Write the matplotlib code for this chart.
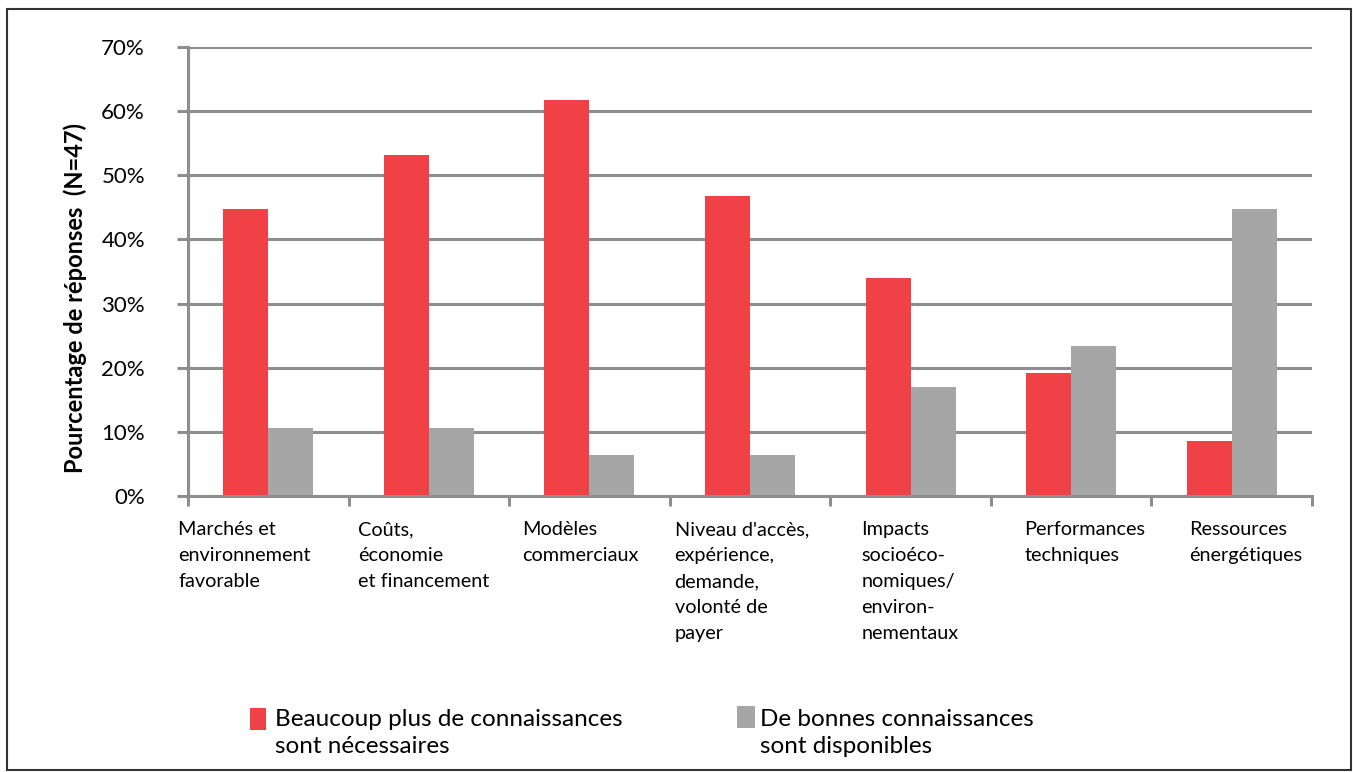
import matplotlib
matplotlib.use("Agg")
import matplotlib.pyplot as plt
from matplotlib.patches import Rectangle
import numpy as np

plt.rcParams['font.family'] = ['Lato', 'DejaVu Sans']

categories = [
    "Marchés et\nenvironnement\nfavorable",
    "Coûts,\néconomie\net financement",
    "Modèles\ncommerciaux",
    "Niveau d'accès,\nexpérience,\ndemande,\nvolonté de\npayer",
    "Impacts\nsocioéco-\nnomiques/\nenviron-\nnementaux",
    "Performances\ntechniques",
    "Ressources\nénergétiques",
]
need_more = [44.7, 53.2, 61.7, 46.8, 34.0, 19.1, 8.5]
good_avail = [10.6, 10.6, 6.4, 6.4, 17.0, 23.4, 44.7]
series_names = ["Beaucoup plus de connaissances\nsont nécessaires",
                "De bonnes connaissances\nsont disponibles"]
yticks = [0, 10, 20, 30, 40, 50, 60, 70]
ylabel = "Pourcentage de réponses  (N=47)"

# label left-edge offsets from category center (style)
label_offsets = [-0.562, -0.442, -0.422, -0.47, -0.306, -0.292, -0.265]

RED = "#EF4146"
GRAY = "#A6A6A6"
GRID = "#8E8E8E"
W, H = 1353, 772

fig = plt.figure(figsize=(W/100, H/100), dpi=100)
ax = fig.add_axes([188/W, 1-496/H, (1312-188)/W, (496-47)/H])

x = np.arange(len(categories))
w = 0.28
b1 = ax.bar(x - w/2, need_more, width=w, color=RED, zorder=3, label=series_names[0])
b2 = ax.bar(x + w/2, good_avail, width=w, color=GRAY, zorder=3, label=series_names[1])

ax.set_xlim(-0.5, len(categories) - 0.5)
ax.set_ylim(0, 70)
ax.set_yticks(yticks)
ax.set_yticklabels([f"{v}%" for v in yticks], fontsize=16)
ax.yaxis.grid(True, color=GRID, lw=2.2, zorder=0)
ax.set_axisbelow(True)

ax.set_xticks(np.arange(len(categories) + 1) - 0.5)
ax.set_xticklabels([])
ax.tick_params(axis='x', length=7, width=2.2, color=GRID, direction='out')
ax.tick_params(axis='y', length=8, width=2.2, color=GRID, direction='out', pad=23)

for side in ['top', 'right']:
    ax.spines[side].set_visible(False)
for side in ['left', 'bottom']:
    ax.spines[side].set_color(GRID)
    ax.spines[side].set_linewidth(2.2)
ax.spines['bottom'].set_zorder(4)

for i, lab in enumerate(categories):
    ax.text(i + label_offsets[i], -3.9, lab, ha='left', va='top', fontsize=14.3,
            linespacing=1.65, transform=ax.transData, clip_on=False)

fig.text(75/W, 1-298/H, ylabel, rotation=90, ha='center', va='center',
         fontsize=17, fontweight='bold')

# legend (manual layout so that the swatch aligns with the first line)
legend_items = [(b1, series_names[0], 250, 708, 16, 22, 275),
                (b2, series_names[1], 737, 706, 18, 22, 760)]
for bars, name, px, py, pw, ph, tx in legend_items:
    fig.patches.append(Rectangle((px/W, 1-(py+ph)/H), pw/W, ph/H,
                                 transform=fig.transFigure,
                                 facecolor=bars.patches[0].get_facecolor(),
                                 edgecolor='none'))
    fig.text(tx/W, 1-709/H, name, ha='left', va='top', fontsize=17.5,
             linespacing=1.35)

fig.patches.append(Rectangle((7/W, 2/H), 1344/W, 761/H,
                             transform=fig.transFigure, fill=False,
                             edgecolor='#333333', lw=1.5))

fig.savefig("out.png", dpi=100, facecolor='white')
